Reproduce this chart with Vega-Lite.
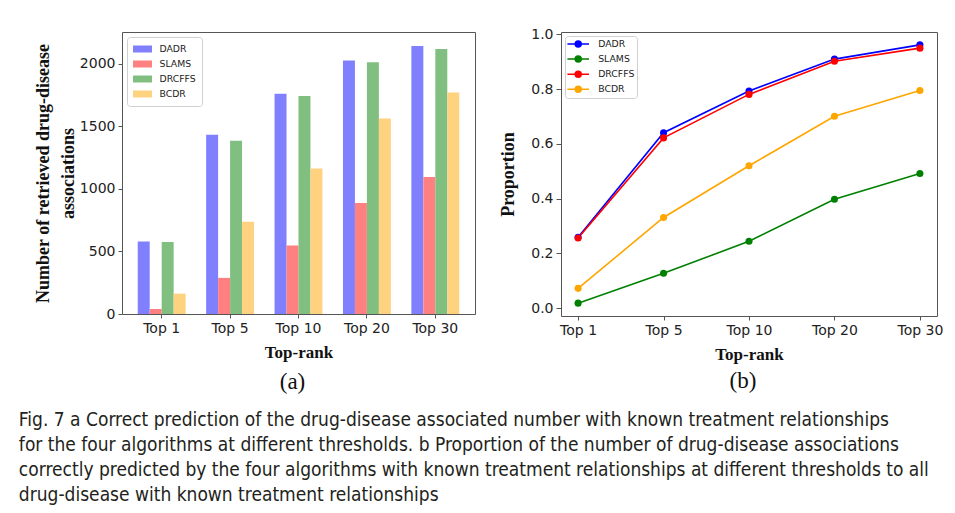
{
  "$schema": "https://vega.github.io/schema/vega-lite/v6.json",
  "padding": {"left": 18, "top": 26, "right": 5, "bottom": 5},
  "background": "white",
  "datasets": {
    "counts": [
      {"rank": "Top 1", "method": "DADR", "count": 580},
      {"rank": "Top 1", "method": "SLAMS", "count": 40},
      {"rank": "Top 1", "method": "DRCFFS", "count": 575},
      {"rank": "Top 1", "method": "BCDR", "count": 163},
      {"rank": "Top 5", "method": "DADR", "count": 1433},
      {"rank": "Top 5", "method": "SLAMS", "count": 289},
      {"rank": "Top 5", "method": "DRCFFS", "count": 1385},
      {"rank": "Top 5", "method": "BCDR", "count": 738},
      {"rank": "Top 10", "method": "DADR", "count": 1762},
      {"rank": "Top 10", "method": "SLAMS", "count": 548},
      {"rank": "Top 10", "method": "DRCFFS", "count": 1743},
      {"rank": "Top 10", "method": "BCDR", "count": 1163},
      {"rank": "Top 20", "method": "DADR", "count": 2027},
      {"rank": "Top 20", "method": "SLAMS", "count": 888},
      {"rank": "Top 20", "method": "DRCFFS", "count": 2013},
      {"rank": "Top 20", "method": "BCDR", "count": 1564},
      {"rank": "Top 30", "method": "DADR", "count": 2144},
      {"rank": "Top 30", "method": "SLAMS", "count": 1096},
      {"rank": "Top 30", "method": "DRCFFS", "count": 2120},
      {"rank": "Top 30", "method": "BCDR", "count": 1772}
    ],
    "props": [
      {"rank": "Top 1", "method": "DADR", "prop": 0.259},
      {"rank": "Top 5", "method": "DADR", "prop": 0.641},
      {"rank": "Top 10", "method": "DADR", "prop": 0.793},
      {"rank": "Top 20", "method": "DADR", "prop": 0.910},
      {"rank": "Top 30", "method": "DADR", "prop": 0.962},
      {"rank": "Top 1", "method": "SLAMS", "prop": 0.018},
      {"rank": "Top 5", "method": "SLAMS", "prop": 0.127},
      {"rank": "Top 10", "method": "SLAMS", "prop": 0.244},
      {"rank": "Top 20", "method": "SLAMS", "prop": 0.398},
      {"rank": "Top 30", "method": "SLAMS", "prop": 0.492},
      {"rank": "Top 1", "method": "DRCFFS", "prop": 0.256},
      {"rank": "Top 5", "method": "DRCFFS", "prop": 0.622},
      {"rank": "Top 10", "method": "DRCFFS", "prop": 0.781},
      {"rank": "Top 20", "method": "DRCFFS", "prop": 0.902},
      {"rank": "Top 30", "method": "DRCFFS", "prop": 0.950},
      {"rank": "Top 1", "method": "BCDR", "prop": 0.072},
      {"rank": "Top 5", "method": "BCDR", "prop": 0.331},
      {"rank": "Top 10", "method": "BCDR", "prop": 0.520},
      {"rank": "Top 20", "method": "BCDR", "prop": 0.701},
      {"rank": "Top 30", "method": "BCDR", "prop": 0.795}
    ]
  },
  "title": {
    "text": [
      "Fig. 7  a Correct prediction of the drug-disease associated number with known treatment relationships",
      "for the four algorithms at different thresholds. b Proportion of the number of drug-disease associations",
      "correctly predicted by the four algorithms with known treatment relationships at different thresholds to all",
      "drug-disease with known treatment relationships"
    ],
    "orient": "bottom",
    "anchor": "start",
    "frame": "bounds",
    "font": "Liberation Sans Narrow, DejaVu Sans Condensed, sans-serif",
    "fontSize": 19,
    "fontWeight": "normal",
    "lineHeight": 25,
    "color": "#231f20",
    "offset": 16,
    "dx": -15
  },
  "spacing": 23,
  "resolve": {"scale": {"color": "independent"}, "legend": {"color": "independent"}},
  "hconcat": [
    {
      "width": 353,
      "height": 282,
      "data": {"name": "counts"},
      "title": {"text": "(a)", "orient": "bottom", "font": "Liberation Serif", "fontSize": 23, "fontWeight": "normal", "color": "#111", "offset": 11, "dx": -6},
      "mark": {"type": "bar"},
      "encoding": {
        "x": {
          "field": "rank", "type": "nominal",
          "sort": ["Top 1", "Top 5", "Top 10", "Top 20", "Top 30"],
          "scale": {"paddingInner": 0.3, "paddingOuter": 0.23},
          "axis": {"title": "Top-rank", "labelAngle": 0, "labelPadding": 3, "titlePadding": 9}
        },
        "xOffset": {
          "field": "method", "type": "nominal",
          "sort": ["DADR", "SLAMS", "DRCFFS", "BCDR"],
          "scale": {"paddingInner": 0, "paddingOuter": 0}
        },
        "y": {
          "field": "count", "type": "quantitative",
          "scale": {"domain": [0, 2255], "nice": false},
          "axis": {
            "values": [0, 500, 1000, 1500, 2000], "format": "d",
            "title": ["Number of retrieved drug-disease", "associations"],
            "titleFontSize": 18, "titleLineHeight": 25, "titlePadding": 2, "labelPadding": 3
          }
        },
        "color": {
          "field": "method", "type": "nominal",
          "sort": ["DADR", "SLAMS", "DRCFFS", "BCDR"],
          "scale": {"domain": ["DADR", "SLAMS", "DRCFFS", "BCDR"], "range": ["#8080ff", "#ff8080", "#80bf80", "#ffd280"]},
          "legend": {
            "title": null, "orient": "top-left", "offset": 5,
            "fillColor": "white", "strokeColor": "#d0d0d0", "cornerRadius": 3,
            "padding": 6, "rowPadding": 3,
            "symbolType": "M-1.583,-0.583H1.583V0.583H-1.583Z",
            "symbolSize": 144, "symbolOffset": 3.5, "symbolStrokeWidth": 0, "symbolOpacity": 1,
            "labelFont": "DejaVu Sans", "labelFontSize": 9.3, "labelColor": "#222", "labelOffset": 11
          }
        }
      }
    },
    {
      "width": 376,
      "height": 284,
      "data": {"name": "props"},
      "title": {"text": "(b)", "orient": "bottom", "font": "Liberation Serif", "fontSize": 23, "fontWeight": "normal", "color": "#111", "offset": 8, "dx": -6},
      "encoding": {
        "x": {
          "field": "rank", "type": "ordinal",
          "sort": ["Top 1", "Top 5", "Top 10", "Top 20", "Top 30"],
          "scale": {"type": "point", "padding": 0.2},
          "axis": {"title": "Top-rank", "labelAngle": 0, "labelPadding": 3, "titlePadding": 9}
        },
        "y": {
          "field": "prop", "type": "quantitative",
          "scale": {"domain": [-0.029, 1.009], "nice": false, "zero": false},
          "axis": {"values": [0, 0.2, 0.4, 0.6, 0.8, 1.0], "format": ".1f", "title": "Proportion", "titleFontSize": 18, "titlePadding": 13, "labelPadding": 3, "tickSize": 5}
        }
      },
      "layer": [
        {
          "mark": {"type": "line", "strokeWidth": 1.6},
          "encoding": {
            "color": {
              "field": "method", "type": "nominal",
              "sort": ["DADR", "SLAMS", "DRCFFS", "BCDR"],
              "scale": {"domain": ["DADR", "SLAMS", "DRCFFS", "BCDR"], "range": ["#0000ff", "#008000", "#ff0000", "#ffa500"]},
              "legend": {
                "title": null, "orient": "top-left", "offset": 4,
                "fillColor": "white", "strokeColor": "#d0d0d0", "cornerRadius": 3,
                "padding": 2, "rowPadding": 3.1,
                "symbolType": "M-2.16,0H2.16M0.6,0A0.6,0.6 0 1 1 -0.6,0A0.6,0.6 0 1 1 0.6,0M0.32,0A0.32,0.32 0 1 1 -0.32,0A0.32,0.32 0 1 1 0.32,0M0.06,0A0.06,0.06 0 1 1 -0.06,0A0.06,0.06 0 1 1 0.06,0",
                "symbolSize": 100, "symbolOffset": 5.2, "symbolStrokeWidth": 1.5,
                "labelFont": "DejaVu Sans", "labelFontSize": 9.3, "labelColor": "#222", "labelOffset": 14
              }
            }
          }
        },
        {
          "mark": {"type": "point", "filled": true, "size": 50, "opacity": 1},
          "encoding": {
            "color": {
              "field": "method", "type": "nominal",
              "sort": ["DADR", "SLAMS", "DRCFFS", "BCDR"],
              "scale": {"domain": ["DADR", "SLAMS", "DRCFFS", "BCDR"], "range": ["#0000ff", "#008000", "#ff0000", "#ffa500"]}
            }
          }
        }
      ]
    }
  ],
  "config": {
    "view": {"stroke": "#555", "strokeWidth": 1},
    "axis": {
      "domain": false, "grid": false, "tickColor": "#555", "tickSize": 4,
      "labelFont": "DejaVu Sans", "labelFontSize": 14, "labelColor": "#222",
      "titleFont": "Liberation Serif", "titleFontWeight": "bold", "titleFontSize": 17, "titleColor": "#111"
    }
  }
}
